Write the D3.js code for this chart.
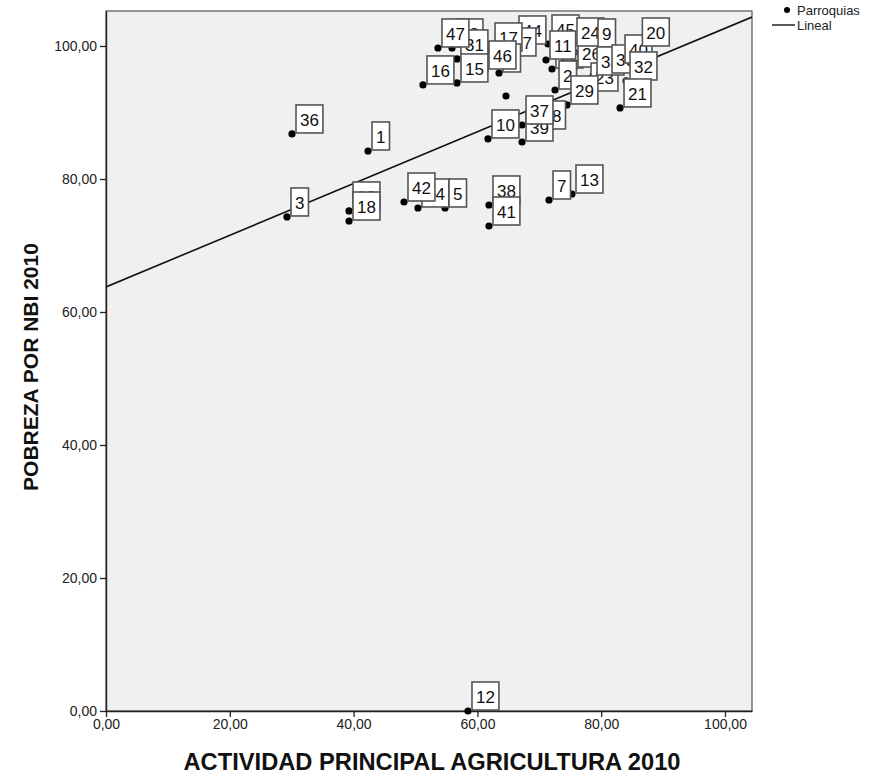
<!DOCTYPE html>
<html>
<head>
<meta charset="utf-8">
<script src="https://cdn.jsdelivr.net/npm/d3@7"></script>
<style>
  html, body { margin: 0; padding: 0; background: #ffffff; }
  svg { display: block; font-family: "Liberation Sans", Arial, sans-serif; }
</style>
</head>
<body>
<svg id="chart" width="891" height="782"></svg>
<script>
// Parroquias: case label, agricultural activity share (x) and NBI poverty (y), in drawing order
const caseLabels = ["19","43","31","44","27","17","6","46","47","16","15","22","45","11","26","24","9","23","33","30","40","32","20","2","29","21","","8","39","37","10","36","1","3","18","14","42","5","38","41","7","13","12"];
const agricultura = [39.26,55.90,56.70,66.07,64.46,62.20,63.49,61.23,53.63,51.21,56.70,72.05,71.41,71.08,75.61,75.44,78.84,77.71,78.68,81.10,83.20,84.01,86.00,72.54,74.47,83.04,64.62,70.76,67.21,67.21,61.71,30.05,42.33,29.24,39.26,50.40,48.14,54.77,61.87,61.87,71.57,75.28,58.48];
const pobreza = [75.19,99.70,98.05,100.15,98.35,99.10,95.94,96.39,99.70,94.14,94.44,96.54,100.30,97.89,96.69,99.85,99.70,93.08,95.49,95.79,97.29,94.74,99.85,93.38,91.13,90.68,92.48,87.37,85.56,88.12,86.02,86.77,84.21,74.29,73.68,75.64,76.54,75.64,76.09,72.93,76.84,77.74,0.00];

// Linear fit (Lineal)
const fitIntercept = 63.76;
const fitSlope = 0.389;

const xTicks = [0, 20, 40, 60, 80, 100];
const yTicks = [0, 20, 40, 60, 80, 100];
const xTitle = "ACTIVIDAD PRINCIPAL AGRICULTURA 2010";
const yTitle = "POBREZA POR NBI 2010";
const legendItems = ["Parroquias", "Lineal"];

const svg = d3.select("#chart");
const plot = { left: 106, right: 752, top: 11, bottom: 711 };

const x = d3.scaleLinear().domain([0, 104.36]).range([plot.left, plot.right]);
const y = d3.scaleLinear().domain([0, 105.26]).range([plot.bottom, plot.top]);

const locale = d3.formatLocale({ decimal: ",", thousands: ".", grouping: [3], currency: ["", ""] });
const fmt = locale.format(".2f");

// plot background
svg.append("rect")
  .attr("x", plot.left).attr("y", plot.top)
  .attr("width", plot.right - plot.left).attr("height", plot.bottom - plot.top)
  .attr("fill", "#f0f0f0")
  .attr("stroke", "#555").attr("stroke-width", 1.2);

// axes
const xAxis = svg.append("g")
  .attr("transform", `translate(0,${plot.bottom})`)
  .call(d3.axisBottom(x).tickValues(xTicks).tickFormat(fmt).tickSize(6).tickPadding(2).tickSizeOuter(0));
const yAxis = svg.append("g")
  .attr("transform", `translate(${plot.left},0)`)
  .call(d3.axisLeft(y).tickValues(yTicks).tickFormat(fmt).tickSize(6).tickPadding(3).tickSizeOuter(0));
[xAxis, yAxis].forEach(a => {
  a.select(".domain").attr("stroke", "#222").attr("stroke-width", 1.4);
  a.selectAll(".tick line").attr("stroke", "#222").attr("stroke-width", 1.3);
  a.selectAll(".tick text")
    .attr("font-family", "Liberation Sans, Arial, sans-serif")
    .attr("font-size", 14).attr("fill", "#222");
});

// axis titles
svg.append("text")
  .attr("x", 432).attr("y", 770)
  .attr("text-anchor", "middle")
  .attr("font-size", 23).attr("font-weight", "bold").attr("fill", "#111")
  .attr("textLength", 497).attr("lengthAdjust", "spacingAndGlyphs")
  .text(xTitle);
svg.append("text")
  .attr("transform", `translate(38,367) rotate(-90)`)
  .attr("text-anchor", "middle")
  .attr("font-size", 21).attr("font-weight", "bold").attr("fill", "#111")
  .text(yTitle);

// fit line
svg.append("clipPath").attr("id", "plotClip")
  .append("rect").attr("x", plot.left).attr("y", plot.top)
  .attr("width", plot.right - plot.left).attr("height", plot.bottom - plot.top);
const xMax = x.domain()[1];
svg.append("line")
  .attr("clip-path", "url(#plotClip)")
  .attr("x1", x(0)).attr("y1", y(fitIntercept))
  .attr("x2", x(xMax)).attr("y2", y(fitIntercept + fitSlope * xMax))
  .attr("stroke", "#111").attr("stroke-width", 1.6);

// points
const data = caseLabels.map((lab, i) => ({ lab, xv: agricultura[i], yv: pobreza[i] }));
svg.append("g").selectAll("circle").data(data).join("circle")
  .attr("cx", d => x(d.xv)).attr("cy", d => y(d.yv))
  .attr("r", 3.6).attr("fill", "#000");

// case labels: box with its lower-left corner beside the point
const labelLayer = svg.append("g");
data.filter(d => d.lab !== "").forEach(d => {
  const g = labelLayer.append("g");
  const rect = g.append("rect");
  const t = g.append("text")
    .attr("font-size", 17).attr("fill", "#111")
    .attr("text-anchor", "middle")
    .text(d.lab);
  const w = t.node().getComputedTextLength() + 8;
  const left = x(d.xv) + 4, bottom = y(d.yv) - 1, h = 28;
  rect.attr("x", left).attr("y", bottom - h).attr("width", w).attr("height", h)
    .attr("fill", "#fff").attr("stroke", "#555").attr("stroke-width", 1.6);
  t.attr("x", left + w / 2).attr("y", bottom - 7);
});

// legend
const lg = svg.append("g");
lg.append("circle").attr("cx", 787).attr("cy", 10).attr("r", 3).attr("fill", "#000");
lg.append("text").attr("x", 797).attr("y", 15).attr("font-size", 13).attr("fill", "#222").text(legendItems[0]);
lg.append("line").attr("x1", 772).attr("x2", 795).attr("y1", 25).attr("y2", 25).attr("stroke", "#222").attr("stroke-width", 1.5);
lg.append("text").attr("x", 797).attr("y", 30).attr("font-size", 13).attr("fill", "#222").text(legendItems[1]);
</script>
</body>
</html>
